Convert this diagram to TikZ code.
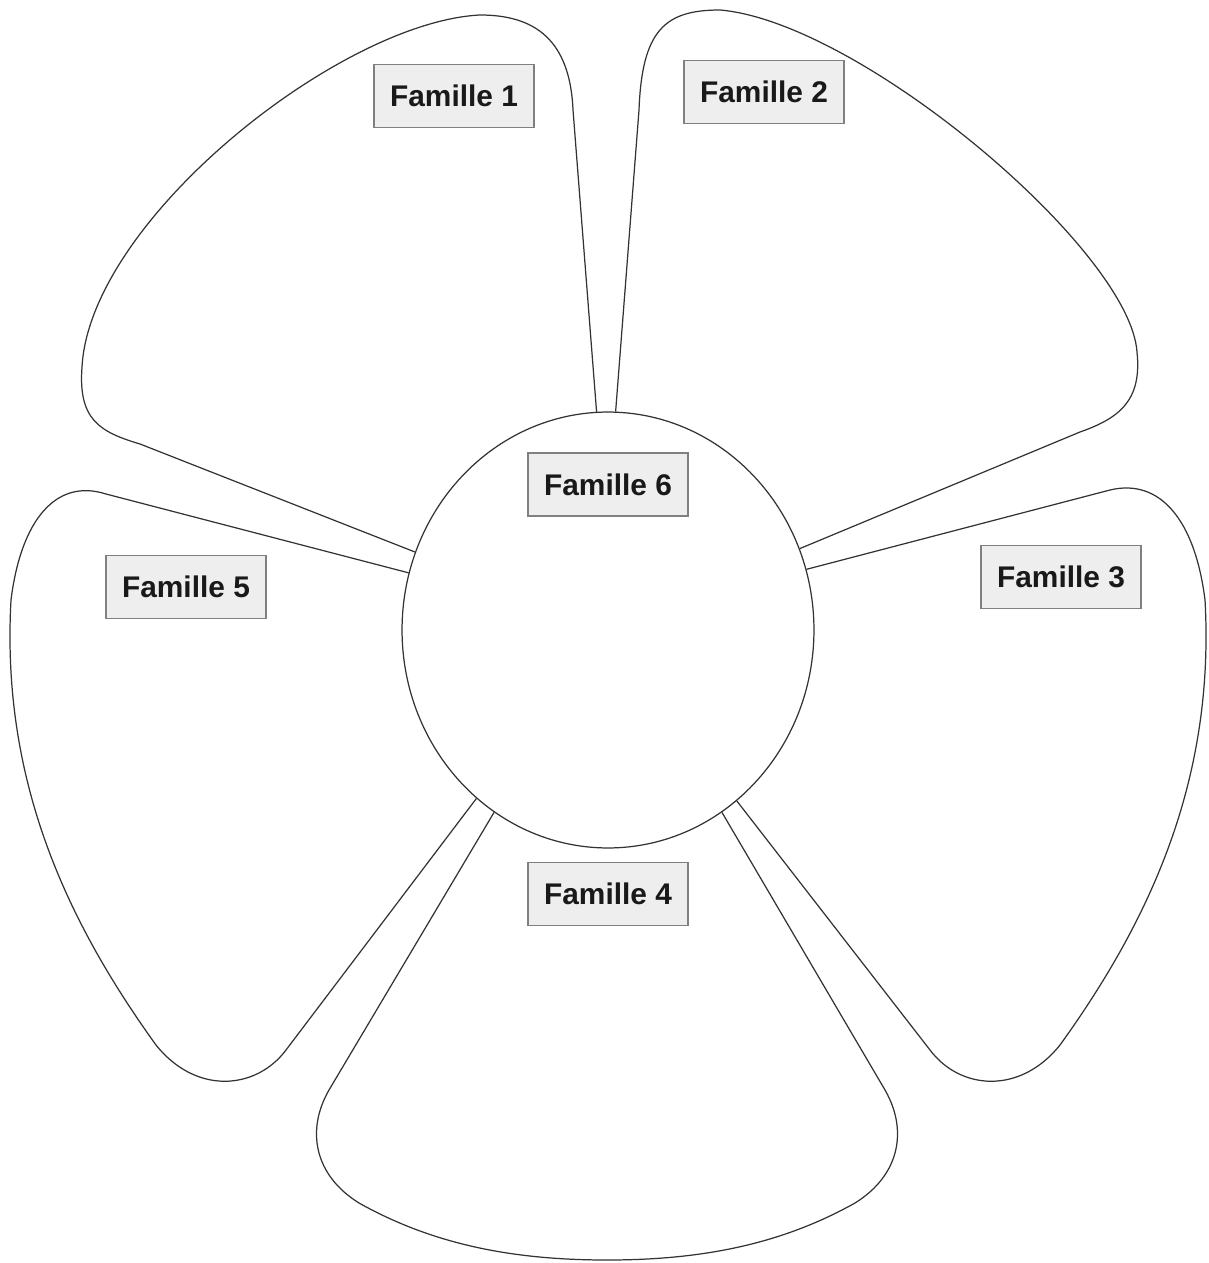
\documentclass[tikz,border=0pt]{standalone}
\usepackage{fontspec}
\setmainfont{Liberation Sans}
\usetikzlibrary{positioning,shapes.geometric}
\definecolor{PetalLine}{HTML}{333333}
\definecolor{LabelGrey}{HTML}{EEEEEE}
\definecolor{LabelEdge}{HTML}{808080}

\begin{document}
\begin{tikzpicture}[x=0.02cm,y=-0.02cm,
    petal/.style={draw=PetalLine,line width=0.7pt,line join=round},
    famille/.style={draw=LabelEdge,fill=LabelGrey,line width=0.9pt,
      minimum width=3.2cm,minimum height=1.26cm,inner sep=2pt,
      font=\fontsize{17}{20}\selectfont\bfseries,text=black!90}]
  \useasboundingbox (0,0) rectangle (1208,1263);

  \node[ellipse,draw=PetalLine,line width=0.7pt,inner sep=0pt,
    minimum width=8.24cm,minimum height=8.72cm] (centre) at (608,630) {};

  % petales
  \draw[petal] (centre.93) -- (573,110)
    .. controls (570,40) and (535,15) .. (480,15)
    .. controls (340,22) and (90,220) .. (82,367)
    .. controls (78,420) and (100,432) .. (140,444) -- (centre.158);
  \draw[petal] (centre.88) -- (639,110)
    .. controls (642,30) and (665,10) .. (720,10)
    .. controls (860,22) and (1130,250) .. (1137,352)
    .. controls (1142,400) and (1120,418) .. (1080,432) -- (centre.23);
  \draw[petal] (centre.17) -- (1110,490)
    .. controls (1160,478) and (1195,520) .. (1205,600)
    .. controls (1215,780) and (1150,920) .. (1060,1045)
    .. controls (1020,1095) and (960,1090) .. (930,1050) -- (centre.-53);
  \draw[petal] (centre.-58) -- (885,1090)
    .. controls (908,1130) and (900,1175) .. (855,1203)
    .. controls (780,1245) and (700,1260) .. (607,1260)
    .. controls (514,1260) and (434,1245) .. (359,1203)
    .. controls (314,1175) and (306,1130) .. (329,1090) -- (centre.-122.5);
  \draw[petal] (centre.-128) -- (286,1050)
    .. controls (256,1090) and (196,1095) .. (156,1045)
    .. controls (66,920) and (1,780) .. (11,600)
    .. controls (21,520) and (56,478) .. (106,494) -- (centre.164);

  \node[famille] (f1) at (454,96) {Famille 1};
  \node[famille] (f2) at (764,92) {Famille 2};
  \node[famille] (f3) at (1061,577) {Famille 3};
  \node[famille,below=0.26cm of centre.south] (f4) {Famille 4};
  \node[famille] (f5) at (186,587) {Famille 5};
  \node[famille,below=0.82cm of centre.north] (f6) {Famille 6};
\end{tikzpicture}
\end{document}
